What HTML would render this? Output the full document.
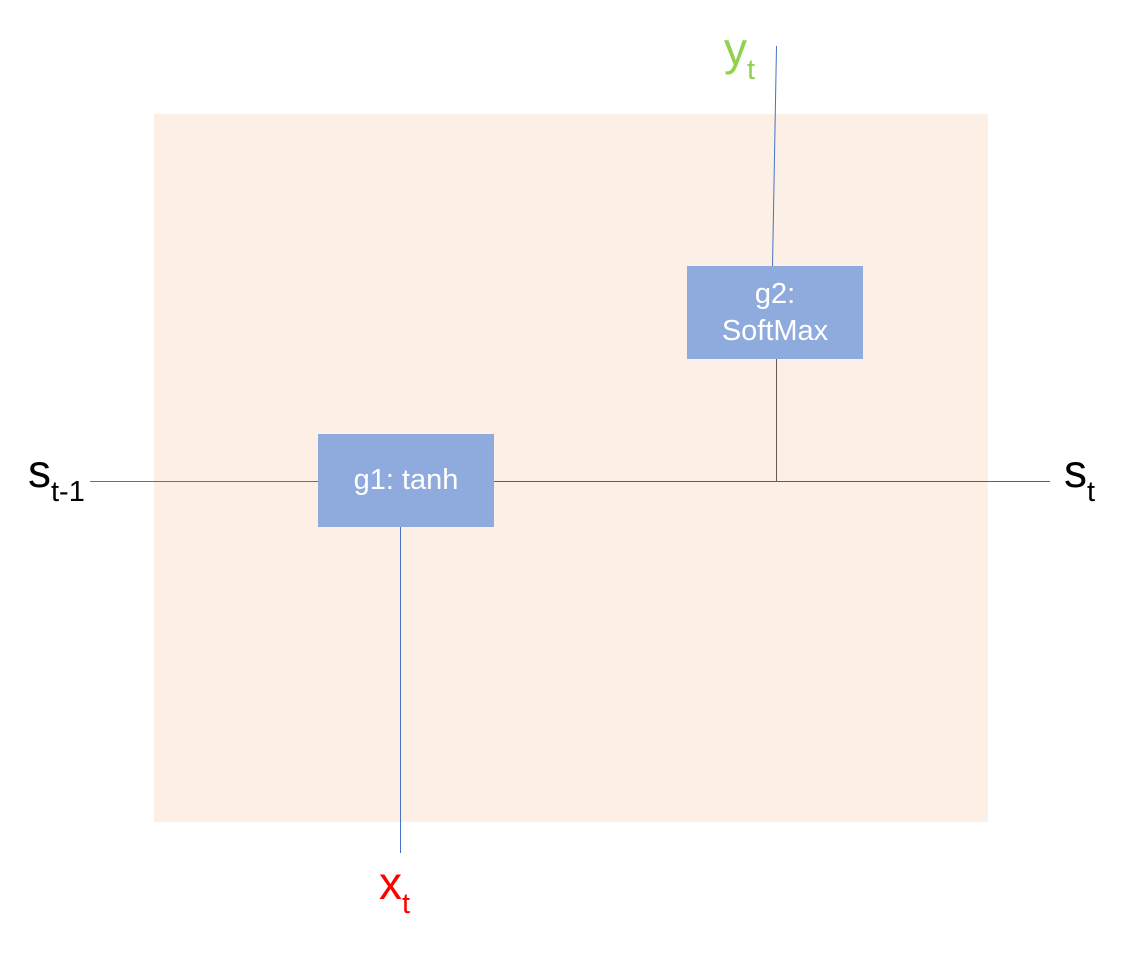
<!DOCTYPE html>
<html><head><style>
body{margin:0;width:1137px;height:953px;background:#fff;position:relative;overflow:hidden;font-family:"Liberation Sans",sans-serif}
.t{position:absolute;font-size:46px;line-height:1}
.t sub{font-size:29px;vertical-align:-14px}
.box{position:absolute;background:#8faadc;color:#fff;font-size:29px;display:flex;align-items:center;justify-content:center;text-align:center;line-height:1.25}
</style></head><body>
<div style="position:absolute;left:154px;top:114px;width:834px;height:708px;background:#fcefe6"></div>
<svg width="1137" height="953" style="position:absolute;left:0;top:0">
<line x1="90" y1="481.5" x2="318" y2="481.5" stroke="#4472c4" stroke-width="1"/>
<line x1="494" y1="481.5" x2="1050" y2="481.5" stroke="#6b5a50" stroke-width="1"/>
<line x1="776.5" y1="359" x2="776.5" y2="481" stroke="#6b5a50" stroke-width="1"/>
<line x1="776.5" y1="46" x2="772.5" y2="266" stroke="#4472c4" stroke-width="1"/>
<line x1="400.5" y1="527" x2="400.5" y2="853" stroke="#4472c4" stroke-width="1"/>
</svg>
<div class="box" style="left:318px;top:434px;width:176px;height:93px">g1: tanh</div>
<div class="box" style="left:687px;top:266px;width:176px;height:93px">g2:<br>SoftMax</div>
<div class="t" style="left:28px;top:448px">s<sub>t-1</sub></div>
<div class="t" style="left:1064px;top:448px">s<sub>t</sub></div>
<div class="t" style="left:724px;top:26px;color:#92d050">y<sub>t</sub></div>
<div class="t" style="left:379px;top:860px;color:#ff0000">x<sub>t</sub></div>
</body></html>
